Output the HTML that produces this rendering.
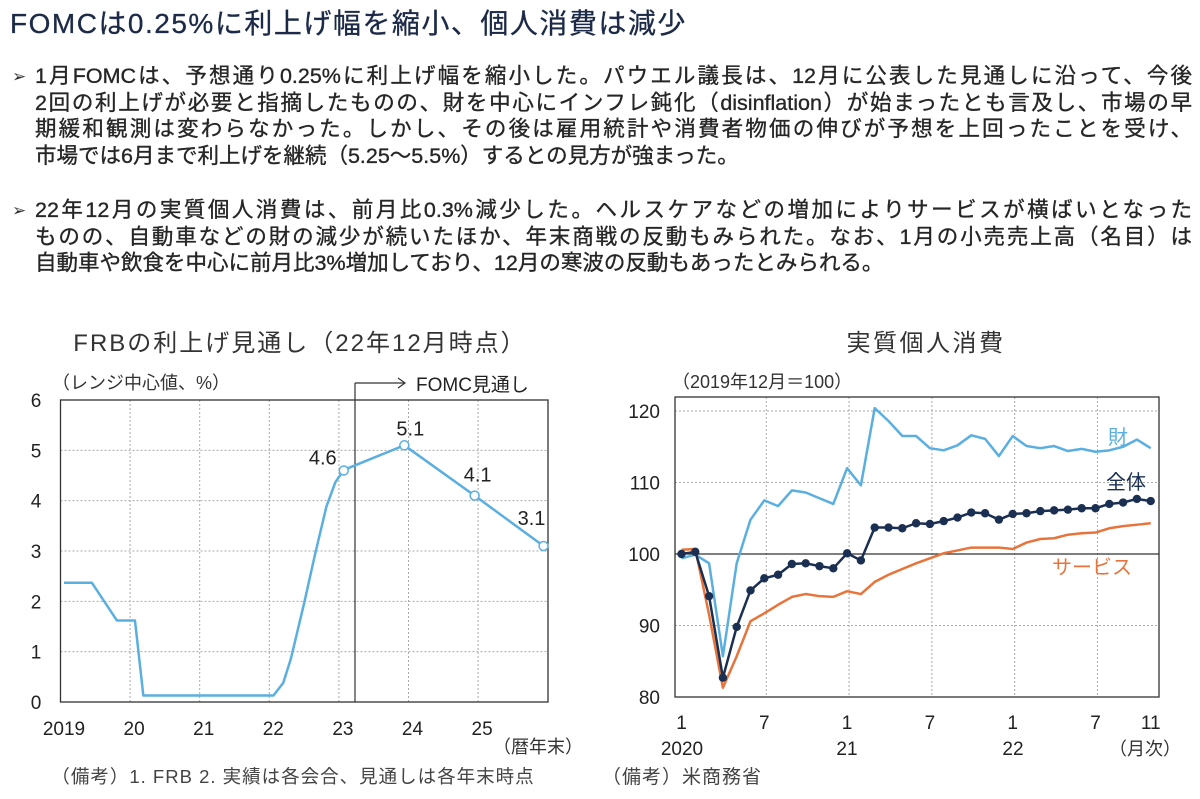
<!DOCTYPE html>
<html><head><meta charset="utf-8"><style>
body{margin:0;width:1200px;height:799px;background:#fff;overflow:hidden;font-family:"Liberation Sans","Noto Sans CJK JP",sans-serif;}
#title{position:absolute;left:10px;top:2px;font-size:28px;letter-spacing:1.5px;color:#1c2a48;white-space:nowrap;-webkit-text-stroke:0.3px #1c2a48;}
.para{position:absolute;left:35px;width:1157px;font-size:21.5px;color:#262626;-webkit-text-stroke:0.35px #262626;}
.para div{height:26.5px;line-height:26.5px;white-space:nowrap;text-align:justify;text-align-last:justify;}
.para div.last{text-align-last:left;}
.bul{position:absolute;left:12px;font-size:17px;color:#333;}
svg{position:absolute;left:0;top:0;}
svg text{font-family:"Liberation Sans","Noto Sans CJK JP",sans-serif;}
</style></head><body>
<div id="title">FOMCは0.25%に利上げ幅を縮小、個人消費は減少</div>
<div class="bul" style="top:67px">➢</div>
<div class="para" style="top:63px">
<div>1月FOMCは、予想通り0.25%に利上げ幅を縮小した。パウエル議長は、12月に公表した見通しに沿って、今後</div>
<div>2回の利上げが必要と指摘したものの、財を中心にインフレ鈍化（disinflation）が始まったとも言及し、市場の早</div>
<div>期緩和観測は変わらなかった。しかし、その後は雇用統計や消費者物価の伸びが予想を上回ったことを受け、</div>
<div class="last">市場では6月まで利上げを継続（5.25～5.5%）するとの見方が強まった。</div>
</div>
<div class="bul" style="top:201px">➢</div>
<div class="para" style="top:197px">
<div>22年12月の実質個人消費は、前月比0.3%減少した。ヘルスケアなどの増加によりサービスが横ばいとなった</div>
<div>ものの、自動車などの財の減少が続いたほか、年末商戦の反動もみられた。なお、1月の小売売上高（名目）は</div>
<div class="last">自動車や飲食を中心に前月比3%増加しており、12月の寒波の反動もあったとみられる。</div>
</div>
<svg id="chart" width="1200" height="799"></svg>
<script>
// ---- Left chart data (FRB policy rate) ----
const rateDates = [2019.05,2019.45,2019.81,2020.07,2020.19,2022.06,2022.2,2022.31,2022.5,2022.66,2022.82,2022.95,2023.07,2023.94,2024.95,2025.94];
const rateValues = [2.37,2.37,1.62,1.62,0.13,0.13,0.38,0.86,1.96,2.95,3.88,4.37,4.61,5.1,4.1,3.1];
const projDates = [2023.07,2023.94,2024.95,2025.94];
const projValues = [4.6,5.1,4.1,3.1];
const projLabels = ["4.6","5.1","4.1","3.1"];
const rateYTicks = [0,1,2,3,4,5,6];
const rateXTicks = [2019,2020,2021,2022,2023,2024,2025];
const rateXLabels = ["2019","20","21","22","23","24","25"];
// ---- Right chart data (real PCE, Jan2020 - Nov2022) ----
const pceTotal = [100.0,100.3,94.1,82.7,89.8,94.9,96.6,97.1,98.6,98.7,98.3,98.0,100.1,99.1,103.7,103.7,103.6,104.3,104.2,104.6,105.1,105.8,105.7,104.8,105.6,105.7,106.0,106.1,106.2,106.4,106.4,107.0,107.2,107.7,107.4];
const pceGoods = [99.4,99.9,98.7,85.7,98.7,104.8,107.5,106.7,108.9,108.6,107.8,107.0,112.0,109.6,120.4,118.6,116.5,116.5,114.8,114.5,115.2,116.6,116.1,113.7,116.5,115.1,114.8,115.1,114.4,114.7,114.3,114.5,115.0,116.0,114.8];
const pceServices = [100.6,100.7,91.5,81.3,85.7,90.6,91.7,92.9,94.0,94.4,94.1,94.0,94.8,94.4,96.1,97.1,97.9,98.7,99.4,100.1,100.5,100.9,100.9,100.9,100.7,101.6,102.1,102.2,102.7,102.9,103.0,103.6,103.9,104.1,104.3];
const pceYTicks = [80,90,100,110,120];
const pceXTicks = [0,6,12,18,24,30,34];
const pceXLabels = ["1","7","1","7","1","7","11"];

const svg = document.getElementById('chart');
const NS = 'http://www.w3.org/2000/svg';
function mk(tag, attrs, parent){const e=document.createElementNS(NS,tag);for(const k in attrs)e.setAttribute(k,attrs[k]);(parent||svg).appendChild(e);return e;}
function txt(x,y,s,size,anchor,fill,parent){const t=mk('text',{x:x,y:y,'font-size':size,'text-anchor':anchor||'middle',fill:fill||'#222'},parent);t.textContent=s;return t;}

// ===== Left chart =====
const L = {x0:60.5,x1:548,y0:702,y1:400};
const lx = t => L.x0 + (t-2019)*69.6;
const ly = v => L.y0 - v*(L.y0-L.y1)/6;
const gL = mk('g',{});


const t1=txt(300,351,'FRBの利上げ見通し（22年12月時点）',24,'middle','#333',gL);
t1.setAttribute('letter-spacing','2');
txt(52,389,'（レンジ中心値、%）',18,'start','#333',gL);
rateYTicks.forEach(v=>{
  if(v>0&&v<6) mk('line',{x1:L.x0,x2:L.x1,y1:ly(v),y2:ly(v),stroke:'#aaa','stroke-dasharray':'2,2','stroke-width':1},gL);
  const t=txt(36,ly(v)+7,String(v),19,'middle','#222',gL);
  
  
});
rateXTicks.forEach((y,i)=>{
  if(i>0) mk('line',{x1:lx(y),x2:lx(y),y1:L.y1,y2:L.y0,stroke:'#aaa','stroke-dasharray':'2,2','stroke-width':1},gL);
  const t=txt(i===0?64:lx(y)+4,735,rateXLabels[i],19,'middle','#222',gL);
  
  
});
mk('rect',{x:L.x0,y:L.y1,width:L.x1-L.x0,height:L.y0-L.y1,fill:'none',stroke:'#333','stroke-width':1.3},gL);
txt(538,753,'（暦年末）',18,'middle','#333',gL);
const f1=txt(293,783,'（備考）1. FRB  2. 実績は各会合、見通しは各年末時点',18.5,'middle','#444',gL);
f1.setAttribute('letter-spacing','1');
// FOMC marker
mk('line',{x1:355,x2:355,y1:383,y2:L.y0,stroke:'#333','stroke-width':1.2},gL);
mk('line',{x1:355,x2:405,y1:383,y2:383,stroke:'#333','stroke-width':1.2},gL);
mk('path',{d:'M398,378 L405,383 L398,388',fill:'none',stroke:'#333','stroke-width':1.2},gL);
txt(416,391,'FOMC見通し',19,'start','#222',gL);
const rl = mk('polyline',{points:rateDates.map((d,i)=>lx(d)+','+ly(rateValues[i])).join(' '),fill:'none',stroke:'#5aafe0','stroke-width':2.5,'stroke-linejoin':'round'},gL);


const lblDx=[-21,6,3,-12], lblDy=[-6,-10,-14,-21];
projDates.forEach((d,i)=>{
  const c=mk('circle',{cx:lx(d),cy:ly(projValues[i]),r:4.5,fill:'#fff',stroke:'#5aafe0','stroke-width':1.5},gL);
  
  
  const lt=txt(lx(d)+lblDx[i],ly(projValues[i])+lblDy[i],projLabels[i],20,'middle','#222',gL);
  
  
});

// ===== Right chart =====
const R = {x0:675,x1:1159,y0:697,y1:397};
const rx = m => 681.5 + m*13.8;
const ry = v => 554 - (v-100)*7.15;
const gR = mk('g',{});


const t2=txt(926,351,'実質個人消費',24,'middle','#333',gR);
t2.setAttribute('letter-spacing','2.5');
txt(672,388,'（2019年12月＝100）',18,'start','#333',gR);
pceYTicks.forEach(v=>{
  if(v!==80&&v!==100) mk('line',{x1:R.x0,x2:R.x1,y1:ry(v),y2:ry(v),stroke:'#aaa','stroke-dasharray':'2,2','stroke-width':1},gR);
  const t=txt(660,ry(v)+7,String(v),19,'end','#222',gR);
  
  
});
pceXTicks.forEach((m,i)=>{
  if(i>0&&i<6) mk('line',{x1:rx(m)+2,x2:rx(m)+2,y1:R.y1,y2:R.y0,stroke:'#aaa','stroke-dasharray':'2,2','stroke-width':1},gR);
  const t=txt(rx(m),729,pceXLabels[i],19,'middle','#222',gR);
  
  
});
txt(682,755,'2020',19,'middle','#222',gR);
txt(847,755,'21',19,'middle','#222',gR);
txt(1013,755,'22',19,'middle','#222',gR);
txt(1145,755,'（月次）',18,'middle','#333',gR);
const f2=txt(602,783,'（備考）米商務省',19,'start','#444',gR);
f2.setAttribute('letter-spacing','1');
mk('line',{x1:R.x0,x2:R.x1,y1:ry(100),y2:ry(100),stroke:'#333','stroke-width':1.3},gR);
mk('rect',{x:R.x0,y:R.y1,width:R.x1-R.x0,height:R.y0-R.y1,fill:'none',stroke:'#333','stroke-width':1.3},gR);
function series(arr,color,name){
  const p=mk('polyline',{points:arr.map((v,i)=>rx(i)+','+ry(v)).join(' '),fill:'none',stroke:color,'stroke-width':2.5,'stroke-linejoin':'round'},gR);
  
  
}
series(pceGoods,'#5aafe0','goods-line');
series(pceServices,'#e8743b','services-line');
series(pceTotal,'#1b2f52','total-line');
pceTotal.forEach((v,i)=>{
  const c=mk('circle',{cx:rx(i),cy:ry(v),r:4.2,fill:'#1b2f52'},gR);
  
  
});
const a=txt(1118,444,'財',20,'middle','#5aafe0',gR);


const b=txt(1126,489,'全体',20,'middle','#1b2f52',gR);


const c=txt(1092,574,'サービス',20,'middle','#e8743b',gR);


</script>
</body></html>
